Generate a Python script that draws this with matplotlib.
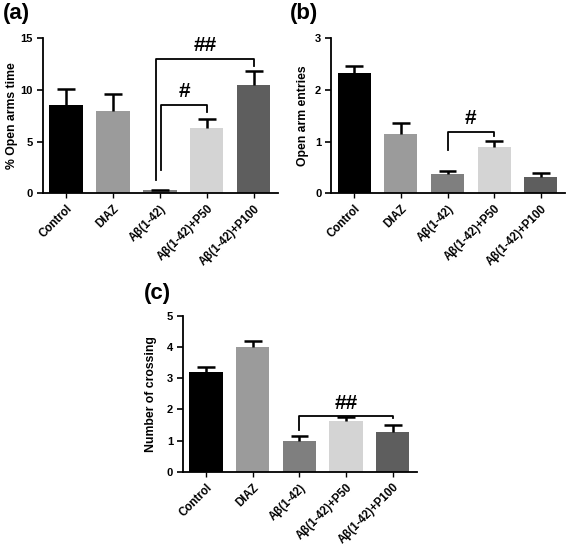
import numpy as np
import matplotlib.pyplot as plt

plt.rcParams['font.family'] = ['Liberation Sans', 'DejaVu Sans']
plt.rcParams['font.weight'] = 'bold'

groups = ['Control', 'DIAZ', 'Aβ(1-42)', 'Aβ(1-42)+P50', 'Aβ(1-42)+P100']
colors = ['#000000', '#9b9b9b', '#7f7f7f', '#d4d4d4', '#5e5e5e']

# panel (a): % open arms time
open_time = [8.5, 8.0, 0.3, 6.3, 10.5]
open_time_err = [1.6, 1.6, 0.05, 0.9, 1.3]
# panel (b): open arm entries
open_entries = [2.33, 1.15, 0.38, 0.89, 0.32]
open_entries_err = [0.14, 0.22, 0.06, 0.12, 0.07]
# panel (c): number of crossing
crossing = [3.2, 4.02, 1.0, 1.63, 1.28]
crossing_err = [0.17, 0.18, 0.15, 0.12, 0.21]

W, H = 567, 544
fig = plt.figure(figsize=(W/100, H/100), dpi=100)

def px_axes(l, r, t, b):
    return fig.add_axes([l/W, 1-b/H, (r-l)/W, (b-t)/H])

def bracket(ax, x1, x2, y, y1, y2, label, ty):
    ax.plot([x1, x1, x2, x2], [y1, y, y, y2], color='k', lw=1.3, clip_on=False)
    ax.text((x1+x2)/2, ty, label, ha='center', va='bottom', fontsize=15, fontweight='bold')

def panel(ax, vals, errs, ymax, yticks, ylabel, label_x):
    x = np.arange(len(groups))
    top = np.array(vals) + np.array(errs)
    ax.bar(x, vals, width=0.71, color=colors, zorder=2)
    # upper error bars only (no cap at the bar top)
    ax.vlines(x, vals, top, color='k', lw=1.8, zorder=3)
    ax.hlines(top, x - 0.19, x + 0.19, color='k', lw=1.8, zorder=3)
    ax.set_xlim(-0.5, 4.52)
    ax.set_ylim(0, ymax)
    ax.set_yticks(yticks)
    ax.set_xticks(x)
    ax.set_xticklabels(groups, rotation=45, ha='right', rotation_mode='anchor', fontsize=8.3)
    ax.tick_params(axis='y', labelsize=8, width=1.2, length=4, pad=3, direction='out')
    ax.tick_params(axis='x', width=1.0, length=3.5)
    for s in ['top', 'right']:
        ax.spines[s].set_visible(False)
    for s in ['left', 'bottom']:
        ax.spines[s].set_linewidth(1.3)
    ax.set_ylabel(ylabel, fontsize=8.8, fontweight='bold')
    ax.yaxis.set_label_coords(label_x, 0.5)

ax1 = px_axes(42.7, 278, 38.3, 193.3)
panel(ax1, open_time, open_time_err, 15, [0, 5, 10, 15], '% Open arms time', -0.105)
bracket(ax1, 1.92, 4.0, 13.0, 1.3, 12.3, '##', 13.4)
bracket(ax1, 2.03, 3.0, 8.5, 2.3, 7.9, '#', 8.9)

ax2 = px_axes(331, 565, 38.3, 193.3)
panel(ax2, open_entries, open_entries_err, 3, [0, 1, 2, 3], 'Open arm entries', -0.095)
bracket(ax2, 2.0, 3.0, 1.19, 0.84, 1.1, '#', 1.26)

ax3 = px_axes(182.7, 417, 316, 471.7)
panel(ax3, crossing, crossing_err, 5, [0, 1, 2, 3, 4, 5], 'Number of crossing', -0.11)
bracket(ax3, 2.0, 4.0, 1.78, 1.34, 1.72, '##', 1.9)

fig.text(3/W, 1-3/H, '(a)', fontsize=16, fontweight='bold', ha='left', va='top')
fig.text(290/W, 1-3/H, '(b)', fontsize=16, fontweight='bold', ha='left', va='top')
fig.text(144/W, 1-283/H, '(c)', fontsize=16, fontweight='bold', ha='left', va='top')

fig.savefig('out.png', dpi=100)
